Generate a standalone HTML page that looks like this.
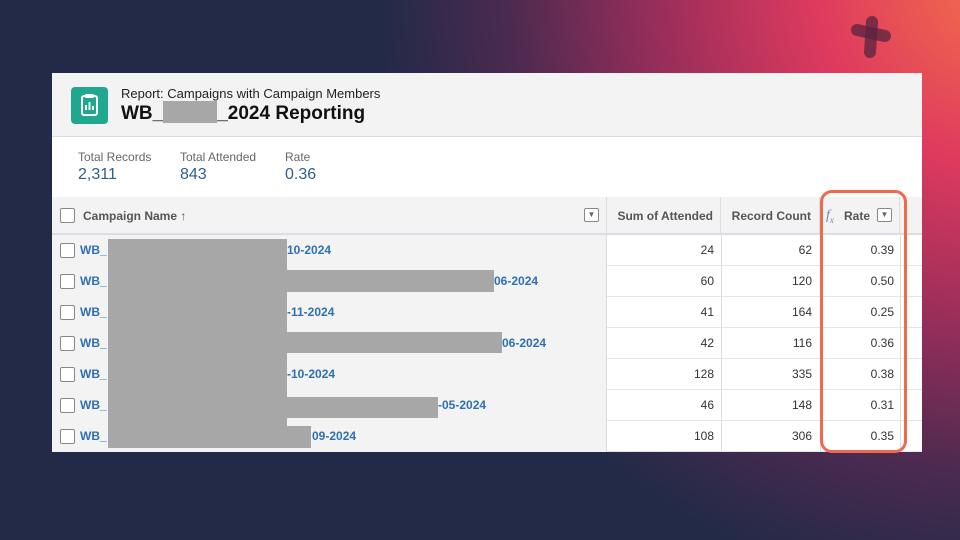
<!DOCTYPE html>
<html><head><meta charset="utf-8"><style>
*{margin:0;padding:0;box-sizing:border-box}
body{width:960px;height:540px;overflow:hidden;position:relative;font-family:"Liberation Sans",Arial,sans-serif;
background:radial-gradient(ellipse 620px 620px at 1000px -20px,#f5704a 0%,#de3a5e 30%,#9a2e5a 55%,#4a2a50 80%,rgba(35,42,71,0) 100%),#232a47;}
.abs{position:absolute}
.panel{left:52px;top:73px;width:870px;height:379px;background:#fff;overflow:hidden}
.hdr{left:0;top:0;width:870px;height:64px;background:#f3f3f3;border-bottom:1px solid #dcdcdc}
.icon{left:19px;top:14px;width:37px;height:37px;background:#1fa88f;border-radius:4px}
.sum{left:0;top:64px;width:870px;height:60px;background:#fff}
.lab{font-size:12px;color:#666}
.val{font-size:16px;color:#2b5f8e}
.th{top:124px;height:38px;background:#f3f3f3;border-bottom:2px solid #d8dde6;font-size:12px;font-weight:bold;color:#555;line-height:38px}
.cb{width:15px;height:15px;border:1px solid #888;border-radius:2px;background:#fff}
.row{left:0;width:870px;height:31px;border-bottom:1px solid #e5e5e5}
.cell{position:absolute;top:0;height:31px;line-height:31px;font-size:12px;color:#333;text-align:right}
.link{color:#2e70b0;font-size:12px;font-weight:bold}
.red{background:#a7a7a7}
</style></head><body>
<svg class="abs" style="left:845px;top:12px" width="50" height="48"><g stroke="#5a2340" stroke-opacity="0.75" stroke-width="12" stroke-linecap="round"><line x1="12" y1="18" x2="40" y2="24"/><line x1="27" y1="10" x2="25" y2="40"/></g></svg>
<div class="abs panel">
 <div class="abs hdr">
  <div class="abs icon"><svg width="37" height="37"><rect x="11" y="9" width="15" height="19" rx="2" fill="none" stroke="#fff" stroke-width="2"/><rect x="14" y="7" width="9" height="4" rx="1" fill="#fff"/><rect x="14" y="18" width="2" height="5" fill="#fff"/><rect x="17.5" y="15" width="2" height="8" fill="#fff"/><rect x="21" y="19" width="2" height="4" fill="#fff"/></svg></div>
  <div class="abs" style="left:69px;top:13px;font-size:13px;color:#222">Report: Campaigns with Campaign Members</div>
  <div class="abs" style="left:69px;top:28px;font-size:19px;font-weight:bold;color:#111">WB_<span style="display:inline-block;width:54px;height:22px;vertical-align:-4px;background:#a7a7a7"></span>_2024 Reporting</div>
 </div>
 <div class="abs sum">
  <div class="abs lab" style="left:26px;top:13px">Total Records</div><div class="abs val" style="left:26px;top:29px">2,311</div>
  <div class="abs lab" style="left:128px;top:13px">Total Attended</div><div class="abs val" style="left:128px;top:29px">843</div>
  <div class="abs lab" style="left:233px;top:13px">Rate</div><div class="abs val" style="left:233px;top:29px">0.36</div>
 </div>
 <div class="abs th" style="left:0;width:555px;border-right:1px solid #ddd"><div class="abs cb" style="left:8px;top:11px"></div><span class="abs" style="left:31px">Campaign Name <span style="font-weight:normal">↑</span></span><div class="abs cb" style="left:532px;top:11px;width:15px;height:14px;font-size:8px;line-height:12px;text-align:center;color:#666">▼</div></div>
 <div class="abs th" style="left:555px;width:114px;text-align:right;padding-right:7px;border-right:1px solid #ddd">Sum of Attended</div>
 <div class="abs th" style="left:669px;width:99px;text-align:right;padding-right:8px;border-right:1px solid #ddd">Record Count</div>
 <div class="abs th" style="left:768px;width:80px;border-right:1px solid #ddd"><span class="abs" style="left:6px;font-family:'Liberation Serif',serif;font-style:italic;color:#6a8ab0;font-size:14px;font-weight:normal">f<sub style="font-size:9px">x</sub></span><span class="abs" style="left:24px">Rate</span><div class="abs cb" style="left:57px;top:11px;height:14px;font-size:8px;line-height:12px;text-align:center;color:#666">▼</div></div>
 <div class="abs th" style="left:848px;width:22px"></div>
</div>
<div class="abs" style="left:52px;top:235px;width:870px;height:217px">
 <div class="abs row" style="top:0"><div class="abs" style="left:0;width:555px;height:31px;background:#f3f3f3;border-right:1px solid #ddd"></div><div class="abs cb" style="left:8px;top:8px"></div><span class="abs link" style="left:28px;top:8px">WB_</span><span class="abs link" style="left:235px;top:8px">10-2024</span><div class="cell" style="left:555px;width:107px">24</div><div class="cell" style="left:669px;width:91px">62</div><div class="cell" style="left:768px;width:74px">0.39</div></div>
 <div class="abs row" style="top:31px"><div class="abs" style="left:0;width:555px;height:31px;background:#f3f3f3;border-right:1px solid #ddd"></div><div class="abs cb" style="left:8px;top:8px"></div><span class="abs link" style="left:28px;top:8px">WB_</span><span class="abs link" style="left:442px;top:8px">06-2024</span><div class="cell" style="left:555px;width:107px">60</div><div class="cell" style="left:669px;width:91px">120</div><div class="cell" style="left:768px;width:74px">0.50</div></div>
 <div class="abs row" style="top:62px"><div class="abs" style="left:0;width:555px;height:31px;background:#f3f3f3;border-right:1px solid #ddd"></div><div class="abs cb" style="left:8px;top:8px"></div><span class="abs link" style="left:28px;top:8px">WB_</span><span class="abs link" style="left:235px;top:8px">-11-2024</span><div class="cell" style="left:555px;width:107px">41</div><div class="cell" style="left:669px;width:91px">164</div><div class="cell" style="left:768px;width:74px">0.25</div></div>
 <div class="abs row" style="top:93px"><div class="abs" style="left:0;width:555px;height:31px;background:#f3f3f3;border-right:1px solid #ddd"></div><div class="abs cb" style="left:8px;top:8px"></div><span class="abs link" style="left:28px;top:8px">WB_</span><span class="abs link" style="left:450px;top:8px">06-2024</span><div class="cell" style="left:555px;width:107px">42</div><div class="cell" style="left:669px;width:91px">116</div><div class="cell" style="left:768px;width:74px">0.36</div></div>
 <div class="abs row" style="top:124px"><div class="abs" style="left:0;width:555px;height:31px;background:#f3f3f3;border-right:1px solid #ddd"></div><div class="abs cb" style="left:8px;top:8px"></div><span class="abs link" style="left:28px;top:8px">WB_</span><span class="abs link" style="left:235px;top:8px">-10-2024</span><div class="cell" style="left:555px;width:107px">128</div><div class="cell" style="left:669px;width:91px">335</div><div class="cell" style="left:768px;width:74px">0.38</div></div>
 <div class="abs row" style="top:155px"><div class="abs" style="left:0;width:555px;height:31px;background:#f3f3f3;border-right:1px solid #ddd"></div><div class="abs cb" style="left:8px;top:8px"></div><span class="abs link" style="left:28px;top:8px">WB_</span><span class="abs link" style="left:386px;top:8px">-05-2024</span><div class="cell" style="left:555px;width:107px">46</div><div class="cell" style="left:669px;width:91px">148</div><div class="cell" style="left:768px;width:74px">0.31</div></div>
 <div class="abs row" style="top:186px"><div class="abs" style="left:0;width:555px;height:31px;background:#f3f3f3;border-right:1px solid #ddd"></div><div class="abs cb" style="left:8px;top:8px"></div><span class="abs link" style="left:28px;top:8px">WB_</span><span class="abs link" style="left:260px;top:8px">09-2024</span><div class="cell" style="left:555px;width:107px">108</div><div class="cell" style="left:669px;width:91px">306</div><div class="cell" style="left:768px;width:74px">0.35</div></div>
 <div class="abs" style="left:669px;top:0;width:1px;height:217px;background:#ddd"></div>
 <div class="abs" style="left:768px;top:0;width:1px;height:217px;background:#ddd"></div>
 <div class="abs" style="left:848px;top:0;width:1px;height:217px;background:#ddd"></div>
</div>
<div class="abs red" style="left:108px;top:239px;width:179px;height:209px"></div>
<div class="abs red" style="left:287px;top:270px;width:207px;height:22px"></div>
<div class="abs red" style="left:287px;top:332px;width:215px;height:21px"></div>
<div class="abs red" style="left:287px;top:397px;width:151px;height:21px"></div>
<div class="abs red" style="left:287px;top:426px;width:24px;height:22px"></div>
<div class="abs" style="left:820px;top:190px;width:87px;height:263px;border:3px solid #ee6a4f;border-radius:12px"></div>
</body></html>
